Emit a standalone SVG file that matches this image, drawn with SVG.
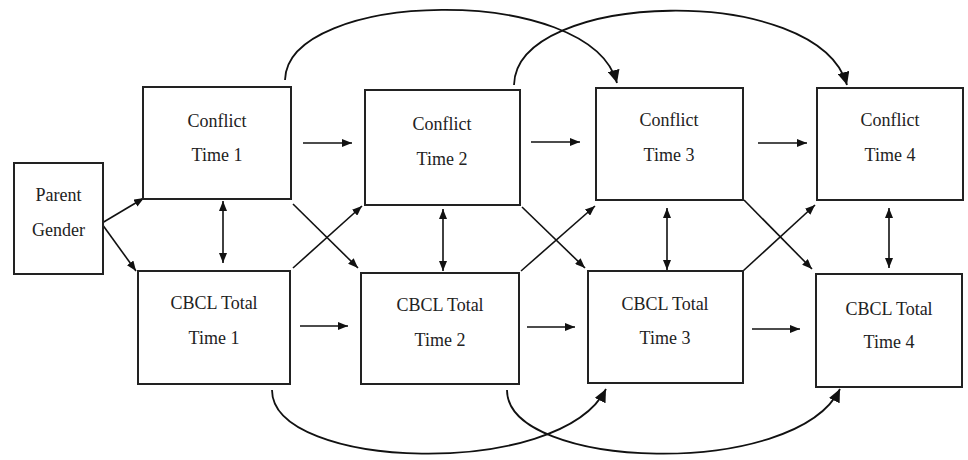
<svg xmlns="http://www.w3.org/2000/svg" width="968" height="460" viewBox="0 0 968 460">
<style>
.box{fill:#fff;stroke:#222;stroke-width:2}
.t{font-family:"Liberation Serif","Times New Roman",serif;font-size:18px;fill:#222;text-anchor:middle}
.c{fill:none;stroke:#111;stroke-width:1.6}
.a{marker-end:url(#ah)}
.d{marker-start:url(#ah);marker-end:url(#ah)}
.arc{fill:none;stroke:#111;stroke-width:1.8;marker-end:url(#ahb)}
</style>
<defs>
<marker id="ah" markerUnits="userSpaceOnUse" viewBox="0 0 10 8" refX="10" refY="4" markerWidth="10" markerHeight="8" orient="auto-start-reverse">
<path d="M0,0 L10,4 L0,8 z" fill="#111"/>
</marker>
<marker id="ahb" markerUnits="userSpaceOnUse" viewBox="0 0 13 12" refX="13" refY="6" markerWidth="13" markerHeight="12" orient="auto">
<path d="M0,0 L13,6 L0,12 z" fill="#111"/>
</marker>
</defs>
<rect width="968" height="460" fill="#fff"/>
<g id="connectors">
<line class="c a" x1="102" y1="223" x2="144" y2="198"/>
<line class="c a" x1="102" y1="224" x2="136" y2="271"/>
<line class="c a" x1="303" y1="143" x2="352" y2="143"/>
<line class="c a" x1="531" y1="142" x2="580" y2="142"/>
<line class="c a" x1="758" y1="143" x2="807" y2="143"/>
<line class="c a" x1="300" y1="326" x2="348" y2="326"/>
<line class="c a" x1="527" y1="327" x2="575" y2="327"/>
<line class="c a" x1="752" y1="329" x2="800" y2="329"/>
<line class="c d" x1="223" y1="201" x2="223" y2="263"/>
<line class="c d" x1="443" y1="209" x2="443" y2="271"/>
<line class="c d" x1="667" y1="208" x2="667" y2="270"/>
<line class="c d" x1="889" y1="208" x2="889" y2="268"/>
<line class="c a" x1="293" y1="204" x2="358" y2="268"/>
<line class="c a" x1="293" y1="268" x2="362" y2="206"/>
<line class="c a" x1="522" y1="207" x2="585" y2="268"/>
<line class="c a" x1="521" y1="271" x2="595" y2="206"/>
<line class="c a" x1="744" y1="200" x2="812" y2="269"/>
<line class="c a" x1="743" y1="271" x2="815" y2="205"/>
<path class="arc" d="M285,80 C287,-10 590,-18 617,83"/>
<path class="arc" d="M514,85 C516,-10 818,-18 847,85"/>
<path class="arc" d="M272,390 C272,470 560,480 606,389"/>
<path class="arc" d="M507,390 C507,470 795,480 840,389"/>
</g>
<g id="parent-gender">
<rect class="box" x="14" y="163" width="89" height="111"/>
<text class="t" x="58.5" y="201">Parent</text>
<text class="t" x="58.5" y="236">Gender</text>
</g>
<g id="conflict-1">
<rect class="box" x="143" y="87" width="148" height="112"/>
<text class="t" x="217" y="127">Conflict</text>
<text class="t" x="217" y="161">Time 1</text>
</g>
<g id="conflict-2">
<rect class="box" x="365" y="90" width="155" height="115"/>
<text class="t" x="442" y="130">Conflict</text>
<text class="t" x="442" y="165">Time 2</text>
</g>
<g id="conflict-3">
<rect class="box" x="596" y="88" width="147" height="112"/>
<text class="t" x="669" y="126">Conflict</text>
<text class="t" x="669" y="161">Time 3</text>
</g>
<g id="conflict-4">
<rect class="box" x="817" y="88" width="146" height="112"/>
<text class="t" x="890" y="126">Conflict</text>
<text class="t" x="890" y="161">Time 4</text>
</g>
<g id="cbcl-1">
<rect class="box" x="138" y="271" width="152" height="113"/>
<text class="t" x="214" y="309">CBCL Total</text>
<text class="t" x="214" y="344">Time 1</text>
</g>
<g id="cbcl-2">
<rect class="box" x="361" y="273" width="158" height="111"/>
<text class="t" x="440" y="311">CBCL Total</text>
<text class="t" x="440" y="346">Time 2</text>
</g>
<g id="cbcl-3">
<rect class="box" x="588" y="271" width="155" height="112"/>
<text class="t" x="665" y="310">CBCL Total</text>
<text class="t" x="665" y="344">Time 3</text>
</g>
<g id="cbcl-4">
<rect class="box" x="816" y="274" width="146" height="113"/>
<text class="t" x="889" y="315">CBCL Total</text>
<text class="t" x="889" y="348">Time 4</text>
</g>
</svg>
